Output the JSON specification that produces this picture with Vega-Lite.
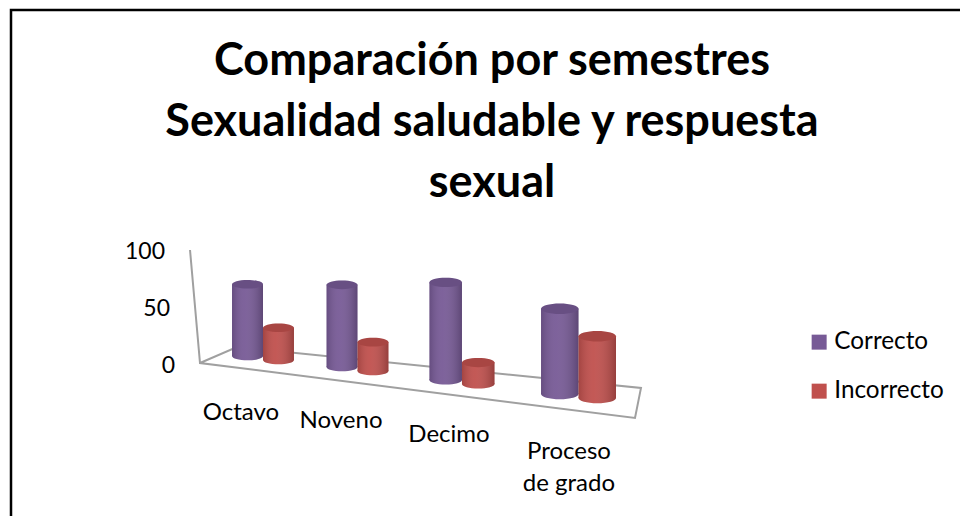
{
"$schema":"https://vega.github.io/schema/vega-lite/v6.json",
"autosize":{"type":"none"},
"padding":{"left":11,"top":10,"right":0,"bottom":0},
"width":960,"height":510,
"background":"white",
"view":{"stroke":"#000000","strokeWidth":2.5,"fill":"white"},
"title":{"text":["Comparación por semestres","Sexualidad saludable y respuesta","sexual"],"font":"Lato","fontSize":45,"fontWeight":"bold","color":"#000000","lineHeight":61,"anchor":"start","align":"center","dx":481,"dy":196,"baseline":"top","offset":0},
"data":{"values":[
{"semestre":"Octavo","serie":"Correcto","valor":69},
{"semestre":"Octavo","serie":"Incorrecto","valor":31},
{"semestre":"Noveno","serie":"Correcto","valor":74},
{"semestre":"Noveno","serie":"Incorrecto","valor":26},
{"semestre":"Decimo","serie":"Correcto","valor":82},
{"semestre":"Decimo","serie":"Incorrecto","valor":18},
{"semestre":"Proceso de grado","serie":"Correcto","valor":58},
{"semestre":"Proceso de grado","serie":"Incorrecto","valor":42}
]},
"transform":[
{"calculate":"indexof(['Octavo','Noveno','Decimo','Proceso de grado'],datum.semestre)","as":"slot"},
{"calculate":"[0,0.9,1.895,3.005][datum.slot]","as":"cx"},
{"calculate":"[0.295,0.295,0.31,0.357][datum.slot]","as":"w"},
{"calculate":"datum.serie=='Incorrecto'?1:0","as":"red"},
{"calculate":"datum.cx-datum.w+datum.red*datum.w","as":"x0"},
{"calculate":"datum.x0+datum.w","as":"x1"},
{"calculate":"datum.x0+datum.w/2","as":"xm"},
{"calculate":"[8.77,-0.88,-12.28,-24.56][datum.slot]-3.51*datum.red","as":"base"},
{"calculate":"datum.base+datum.valor*[0.912,0.974,1.044,1.289][datum.slot]","as":"top"},
{"calculate":"pow(datum.w*105,2)","as":"sz"},
{"calculate":"[-0.21,0.743,1.771,2.914][datum.slot]","as":"lx"},
{"calculate":"[-41.2,-48.2,-60.5,-75.4][datum.slot]","as":"ly"},
{"calculate":"replace(datum.semestre,'o de','o|de')","as":"etiqueta"}
],
"layer":[
{"data":{"values":[
{"orden":0,"lado":-0.695,"altura":101.75},
{"orden":1,"lado":-0.6,"altura":2.63},
{"orden":2,"lado":3.543,"altura":-45.61},
{"orden":3,"lado":3.6,"altura":-19.3},
{"orden":4,"lado":-0.248,"altura":16.67},
{"orden":5,"lado":-0.6,"altura":2.63}
]},
"mark":{"type":"line","color":"#a0a0a0","strokeWidth":2},
"encoding":{
"x":{"field":"lado","type":"quantitative","scale":{"domain":[-2.4,6.743],"nice":false,"zero":false},"axis":null},
"y":{"field":"altura","type":"quantitative","scale":{"domain":[-135.09,312.28],"nice":false,"zero":false},"axis":null},
"order":{"field":"orden","type":"quantitative"}
}},
{"data":{"values":[{"marca":0},{"marca":50},{"marca":100}]},
"transform":[{"calculate":"-0.933+(100-datum.marca)*0.00095","as":"lado"}],
"mark":{"type":"text","font":"Lato","fontSize":23,"color":"#000000","align":"right","baseline":"middle","dy":0.5},
"encoding":{
"x":{"field":"lado","type":"quantitative","scale":{"domain":[-2.4,6.743],"nice":false,"zero":false},"axis":null},
"y":{"field":"marca","type":"quantitative","scale":{"domain":[-135.09,312.28],"nice":false,"zero":false},"axis":null},
"text":{"field":"marca","type":"quantitative"}
}},
{"mark":{"type":"point","filled":true,"opacity":1,"shape":"M-1,0A1,0.28 0 1 1 1,0A1,0.28 0 1 1 -1,0Z"},
"encoding":{
"x":{"field":"xm","type":"quantitative","scale":{"domain":[-2.4,6.743],"nice":false,"zero":false},"axis":null},
"y":{"field":"base","type":"quantitative","scale":{"domain":[-135.09,312.28],"nice":false,"zero":false},"axis":null},
"size":{"field":"sz","type":"quantitative","scale":null},
"color":{"field":"serie","type":"nominal","scale":{"domain":["Correcto","Incorrecto"],"range":["#775a96","#c0504d"]},"legend":{"title":null,"orient":"none","legendX":796,"legendY":320,"symbolType":"square","symbolSize":225,"symbolStrokeWidth":0,"labelFont":"Lato","labelFontSize":24.3,"labelColor":"#000000","labelOffset":3,"rowPadding":24,"padding":0}}
}},
{"mark":{"type":"point","filled":true,"opacity":1,"fill":{"gradient":"linear","x1":0,"y1":0,"x2":1,"y2":0,"stops":[{"offset":0,"color":"rgba(0,0,0,0.15)"},{"offset":0.4,"color":"rgba(255,255,255,0.05)"},{"offset":1,"color":"rgba(0,0,0,0.22)"}]},"shape":"M-1,0A1,0.28 0 1 1 1,0A1,0.28 0 1 1 -1,0Z"},
"encoding":{
"x":{"field":"xm","type":"quantitative","scale":{"domain":[-2.4,6.743],"nice":false,"zero":false},"axis":null},
"y":{"field":"base","type":"quantitative","scale":{"domain":[-135.09,312.28],"nice":false,"zero":false},"axis":null},
"size":{"field":"sz","type":"quantitative","scale":null}
}},
{"mark":{"type":"rect"},
"encoding":{
"x":{"field":"x0","type":"quantitative","scale":{"domain":[-2.4,6.743],"nice":false,"zero":false},"axis":null},
"x2":{"field":"x1"},
"y":{"field":"base","type":"quantitative","scale":{"domain":[-135.09,312.28],"nice":false,"zero":false},"axis":null},
"y2":{"field":"top"},
"color":{"field":"serie","type":"nominal"}
}},
{"mark":{"type":"rect","fill":{"gradient":"linear","x1":0,"y1":0,"x2":1,"y2":0,"stops":[{"offset":0,"color":"rgba(0,0,0,0.15)"},{"offset":0.4,"color":"rgba(255,255,255,0.05)"},{"offset":1,"color":"rgba(0,0,0,0.22)"}]}},
"encoding":{
"x":{"field":"x0","type":"quantitative","scale":{"domain":[-2.4,6.743],"nice":false,"zero":false},"axis":null},
"x2":{"field":"x1"},
"y":{"field":"base","type":"quantitative","scale":{"domain":[-135.09,312.28],"nice":false,"zero":false},"axis":null},
"y2":{"field":"top"}
}},
{"mark":{"type":"point","filled":true,"opacity":1,"shape":"M-1,0A1,0.28 0 1 1 1,0A1,0.28 0 1 1 -1,0Z"},
"encoding":{
"x":{"field":"xm","type":"quantitative","scale":{"domain":[-2.4,6.743],"nice":false,"zero":false},"axis":null},
"y":{"field":"top","type":"quantitative","scale":{"domain":[-135.09,312.28],"nice":false,"zero":false},"axis":null},
"size":{"field":"sz","type":"quantitative","scale":null},
"color":{"field":"serie","type":"nominal"}
}},
{"mark":{"type":"point","filled":true,"opacity":0.12,"color":"#000000","shape":"M-1,0A1,0.28 0 1 1 1,0A1,0.28 0 1 1 -1,0Z"},
"encoding":{
"x":{"field":"xm","type":"quantitative","scale":{"domain":[-2.4,6.743],"nice":false,"zero":false},"axis":null},
"y":{"field":"top","type":"quantitative","scale":{"domain":[-135.09,312.28],"nice":false,"zero":false},"axis":null},
"size":{"field":"sz","type":"quantitative","scale":null}
}},
{"transform":[{"filter":"datum.serie=='Correcto'"}],
"mark":{"type":"text","font":"Lato","fontSize":24,"color":"#000000","align":"center","baseline":"middle","lineBreak":"|","lineHeight":32},
"encoding":{
"x":{"field":"lx","type":"quantitative","scale":{"domain":[-2.4,6.743],"nice":false,"zero":false},"axis":null},
"y":{"field":"ly","type":"quantitative","scale":{"domain":[-135.09,312.28],"nice":false,"zero":false},"axis":null},
"text":{"field":"etiqueta"}
}}
]
}
